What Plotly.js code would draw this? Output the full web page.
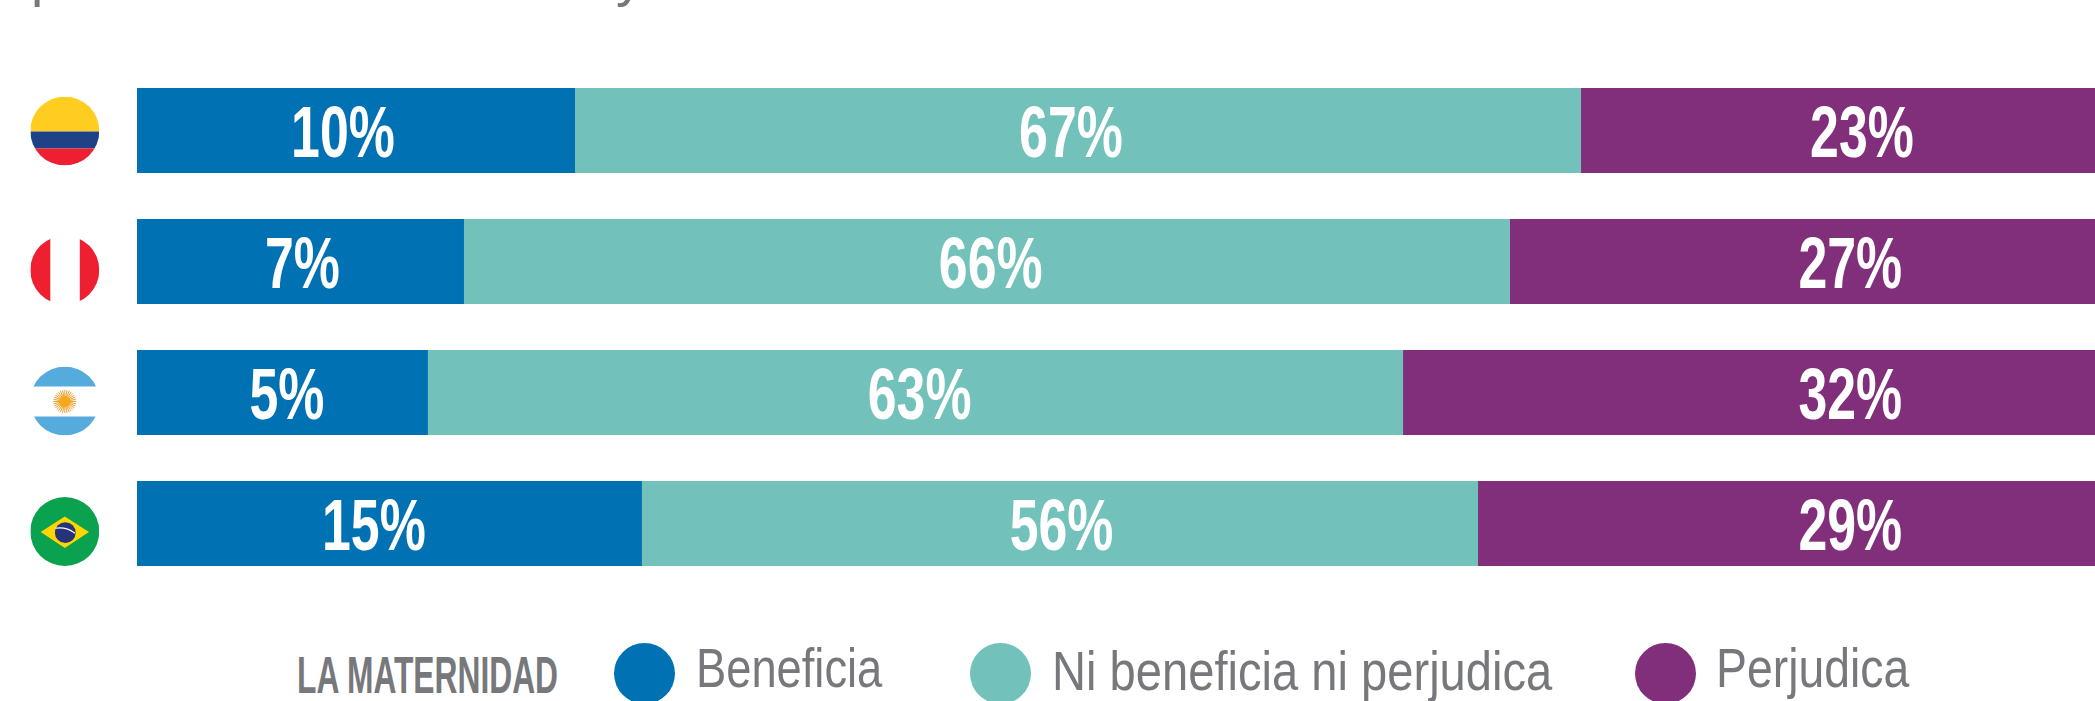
<!DOCTYPE html>
<html><head><meta charset="utf-8">
<script src="https://cdn.plot.ly/plotly-3.0.1.min.js"></script>
<style>html,body{margin:0;padding:0;background:#fff;overflow:hidden}#c{width:2095px;height:701px}</style>
</head><body><div id="c"></div>
<script>
const countries = ["Colombia","Perú","Argentina","Brasil"];
// Bar lengths as drawn in the picture, in % of the visible bar span (the drawn lengths do not follow the printed labels)
const drawnBeneficia = [22.37,16.70,14.86,25.79];
const drawnNi = [51.38,53.42,49.80,42.70];
const drawnPerjudica = [28.80,29.88,35.34,31.51];
// Printed labels
const labelsBeneficia = ["10%","7%","5%","15%"];
const labelsNi = ["67%","66%","63%","56%"];
const labelsPerjudica = ["23%","27%","32%","29%"];
// Label centres, same unit
const centreBeneficia = [10.52,8.45,7.66,12.10];
const centreNi = [47.70,43.60,39.97,47.22];
const centrePerjudica = [88.10,87.50,87.50,87.50];
const seriesNames = ["Beneficia","Ni beneficia ni perjudica","Perjudica"];
const seriesColors = ["#0071B3","#72C2BB","#812F7B"];
const legendTitle = "LA MATERNIDAD";

const W=2095,H=701,L=137,P=131,C0=130.5;
const px=x=>x/W, py=y=>1-y/H;
const sans='"Liberation Sans",Arial,sans-serif';
function bar(name,x,color,base){return {type:'bar',orientation:'h',name,y:countries,x,base,marker:{color,line:{width:0}},width:85/P,hoverinfo:'skip',showlegend:false};}
const base3=drawnBeneficia.map((v,i)=>v+drawnNi[i]);
const traces=[bar(seriesNames[0],drawnBeneficia,seriesColors[0],countries.map(()=>0)),
 bar(seriesNames[1],drawnNi,seriesColors[1],drawnBeneficia),
 bar(seriesNames[2],drawnPerjudica,seriesColors[2],base3)];
[[centreBeneficia,labelsBeneficia],[centreNi,labelsNi],[centrePerjudica,labelsPerjudica]].forEach(([x,t])=>{
 traces.push({type:'scatter',mode:'text',y:countries,x,text:t,textposition:'middle center',cliponaxis:false,
  textfont:{family:sans,size:72,color:'#fff',weight:700},hoverinfo:'skip',showlegend:false});
});
function svg(s){return 'data:image/svg+xml;utf8,'+encodeURIComponent('<svg xmlns="http://www.w3.org/2000/svg" viewBox="0 0 69 69" width="276" height="276"><defs><clipPath id="k"><circle cx="34.5" cy="34.5" r="34.5"/></clipPath></defs><g clip-path="url(#k)">'+s+'</g></svg>');}
function sun(){let r='';for(let a=0;a<32;a++){r+=`<line x1="34.5" y1="35" x2="${34.5+11.5*Math.cos(a*Math.PI/16)}" y2="${35+11.5*Math.sin(a*Math.PI/16)}" stroke="#EE9F2E" stroke-width="1"/>`;}return r+'<circle cx="34.5" cy="35" r="5.5" fill="#F5A81C"/>';}
const flags=[
 {cy:131,s:'<rect width="69" height="35" fill="#FFCD20"/><rect y="35" width="69" height="17" fill="#1F4287"/><rect y="52" width="69" height="17" fill="#EE1F30"/>'},
 {cy:270,s:'<rect width="20" height="69" fill="#EE1F30"/><rect x="49.5" width="20" height="69" fill="#EE1F30"/>'},
 {cy:401,s:'<rect width="69" height="20" fill="#55ACDC"/><rect y="50" width="69" height="19" fill="#55ACDC"/>'+sun()},
 {cy:531.5,s:'<rect width="69" height="69" fill="#0BA24F"/><polygon points="34.5,19.5 58.7,35 34.5,51 10.4,35" fill="#FFD500"/><circle cx="35" cy="35.7" r="10.4" fill="#26337A"/><path d="M25 31.2 Q36 29.5 44.7 36.2" stroke="#fff" stroke-width="1.1" fill="none"/>'}
];
const images=flags.map(f=>({source:svg(f.s),xref:'paper',yref:'paper',x:px(30.3),y:py(f.cy-34.5),sizex:69/W,sizey:69/H,sizing:'stretch',xanchor:'left',yanchor:'top',layer:'above'}));
const legendCx=[644.5,1000.5,1665.5];
const shapes=legendCx.map((cx,i)=>({type:'circle',xref:'paper',yref:'paper',x0:px(cx-30.5),x1:px(cx+30.5),y0:py(673.5+30.5),y1:py(673.5-30.5),fillcolor:seriesColors[i],line:{width:0}}));
const gray='#77787B';
// target widths of the narrow display type
const annotationSpec=[
 {text:legendTitle,x:295.5,y:692.5,w:261,bold:true,size:52},
 {text:seriesNames[0],x:695,y:688,w:187,size:56},
 {text:seriesNames[1],x:1051,y:691,w:501,size:56},
 {text:seriesNames[2],x:1715,y:688,w:194,size:56},
 {text:"p",x:29.5,y:-4,size:55},
 {text:"y",x:615,y:-4,size:55}
];
const annotations=annotationSpec.map(a=>({xref:'paper',yref:'paper',xanchor:'left',yanchor:'bottom',showarrow:false,yshift:-12,borderpad:0,text:a.text,x:px(a.x),y:py(a.y),
  font:{family:sans,size:a.size,color:gray,weight:a.bold?700:400}}));
const layout={width:W,height:H,margin:{l:0,r:0,t:0,b:0,pad:0},paper_bgcolor:'#fff',plot_bgcolor:'#fff',barmode:'overlay',showlegend:false,
 xaxis:{domain:[L/W,1],range:[0,100],visible:false,fixedrange:true},
 yaxis:{domain:[0,1],type:'category',categoryorder:'array',categoryarray:countries,range:[(H-C0)/P,-C0/P],visible:false,fixedrange:true},
 images,shapes,annotations};
Plotly.newPlot('c',traces,layout,{staticPlot:true,displayModeBar:false}).then(()=>{
 document.querySelectorAll('.textpoint text').forEach(t=>{
  const x=+t.getAttribute('x'),y=+t.getAttribute('y');
  t.setAttribute('transform',`translate(${x} ${y+9}) scale(.72 1) translate(${-x} ${-y})`);
 });
 document.querySelectorAll('.annotation-text-g text').forEach(t=>{
  const spec=annotationSpec.find(a=>a.text===t.textContent);
  if(!spec||!spec.w) return;
  const b=t.getBBox(), s=spec.w/b.width;
  t.setAttribute('transform',`translate(${b.x} 0) scale(${s} 1) translate(${-b.x} 0)`);
 });
});
</script></body></html>
